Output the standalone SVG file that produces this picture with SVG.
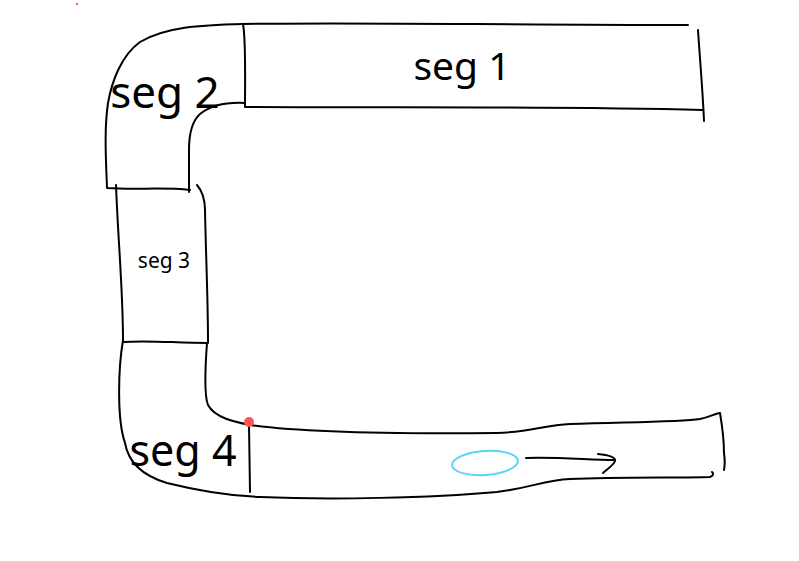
<svg xmlns="http://www.w3.org/2000/svg" width="799" height="561" viewBox="0 0 799 561">
<style>
.s{fill:none;stroke:#000;stroke-width:2;stroke-linecap:round;stroke-linejoin:round}
.t{font-family:"Noto Sans","Open Sans",sans-serif;fill:#000}
</style>
<rect width="799" height="561" fill="#fff"/>
<rect x="76" y="3" width="2" height="2" fill="#f55"/>
<g id="seg1">
<path class="s" d="M243,24 C350,22 500,25 688,25"/>
<path class="s" d="M243,24 C246,40 245,80 245,107 C400,108 550,106 703,110"/>
<path class="s" d="M698,30 C700,60 703,95 704,121"/>
<text class="t" x="462" y="80" font-size="39" text-anchor="middle">seg 1</text>
</g>
<g id="seg2">
<path class="s" d="M243,24 C200,25 165,27 140,42 C122,55 112,80 108,103 C104,130 106,160 107,188 C135,190 165,187 190,190"/>
<path class="s" d="M245,103 C225,102 210,106 200,114 C191,122 189,135 189,150 L189,192"/>
<text class="t" x="165" y="108" font-size="44" text-anchor="middle">seg 2</text>
</g>
<g id="seg3">
<path class="s" d="M116,185 C118,240 123,290 123,340"/>
<path class="s" d="M197,185 C203,192 205,200 205,210 C206,260 208,300 208,342"/>
<path class="s" d="M123,342 C150,340 175,343 208,343"/>
<text class="t" x="164" y="268" font-size="21" text-anchor="middle">seg 3</text>
</g>
<g id="seg4">
<path class="s" d="M123,340 C118,370 117,420 125,443 C128,460 140,475 167,483 C195,490 230,496 260,497 C330,500 430,498 497,492 C530,488 545,480 570,479 C620,477 680,478 710,477 C713,476 714,474 712,472"/>
<path class="s" d="M207,343 C205,370 204,395 208,405 C215,418 235,422 250,425 C300,432 400,434 497,433 C530,432 545,425 570,424 C630,422 680,422 700,419 C710,417 716,413 720,413 C722,425 724,445 724,453 C725,460 725,465 724,470"/>
<path class="s" d="M249,425 L250,492"/>
<circle cx="249" cy="422" r="5" fill="#f55"/>
<text class="t" x="183" y="466" font-size="43" text-anchor="middle">seg 4</text>
</g>
<g id="connectors">
<ellipse cx="485" cy="463" rx="33" ry="12" fill="none" stroke="#5ad4f5" stroke-width="2" transform="rotate(-4 485 463)"/>
<path class="s" d="M526,458 C560,457 590,460 614,460"/>
<path class="s" d="M598,454 C608,455 616,457 615,461 C613,466 607,469 603,473"/>
</g>
</svg>
